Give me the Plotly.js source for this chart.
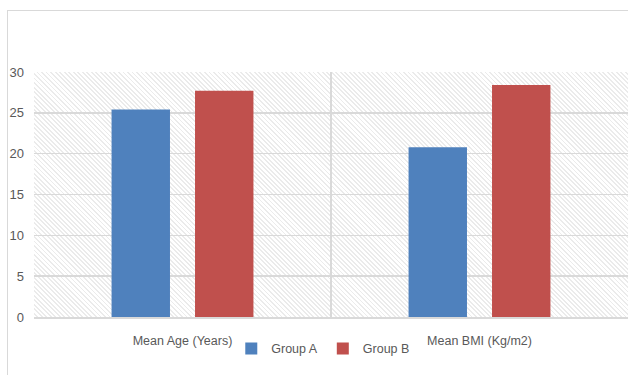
<!DOCTYPE html>
<html>
<head>
<meta charset="utf-8">
<script src="https://cdn.plot.ly/plotly-3.0.1.min.js"></script>
<style>
  html, body { margin: 0; padding: 0; background: #ffffff; }
  #wrap { position: relative; width: 628px; height: 375px; overflow: hidden; }
  #frame { position: absolute; left: 7px; top: 10px; width: 640px; height: 400px;
           border-left: 1.5px solid #d9d9d9; border-top: 1.5px solid #d9d9d9; }
  #hatch { position: absolute; left: 34px; top: 72px; width: 600px; height: 245px;
           background: repeating-linear-gradient(45deg, #ffffff 0px, #ffffff 1.9px, #ebebeb 1.9px, #ebebeb 3.2px); }
  #chart { position: absolute; left: 0; top: 0; width: 628px; height: 375px; }
</style>
</head>
<body>
<div id="wrap">
  <div id="frame"></div>
  <div id="hatch"></div>
  <div id="chart"></div>
</div>
<script>
const categories = ["Mean Age (Years)", "Mean BMI (Kg/m2)"];
const seriesNames = ["Group A", "Group B"];
const groupA = [25.4, 20.8];
const groupB = [27.7, 28.4];
const yTicks = [0, 5, 10, 15, 20, 25, 30];

const FONT = "'Liberation Sans Narrow', 'Liberation Sans', Arial, sans-serif";

const traces = [
  { type: "bar", name: seriesNames[0], x: categories, y: groupA,
    marker: { color: "#4f81bd" } },
  { type: "bar", name: seriesNames[1], x: categories, y: groupB,
    marker: { color: "#c0504d" } }
];

const layout = {
  width: 628, height: 375,
  margin: { l: 34, r: 0, t: 72, b: 58, pad: 0 },
  paper_bgcolor: "rgba(0,0,0,0)",
  plot_bgcolor: "rgba(0,0,0,0)",
  barmode: "group",
  bargap: 0.438,
  bargroupgap: 0.30,
  font: { family: FONT, size: 12, color: "#595959" },
  showlegend: true,
  legend: { orientation: "h", x: 0.487, xanchor: "center", y: -0.13, yanchor: "middle",
            font: { family: FONT, size: 12.5, color: "#595959" }, itemwidth: 30, bgcolor: "rgba(0,0,0,0)" },
  xaxis: {
    type: "category", tickson: "boundaries", showgrid: true, gridcolor: "#d9d9d9", gridwidth: 1.5,
    ticks: "", showline: true, linecolor: "#d9d9d9", linewidth: 1.5, ticklabelstandoff: 11,
    tickfont: { family: FONT, size: 12.5, color: "#595959" }, fixedrange: true
  },
  yaxis: {
    range: [0, 30], tickvals: yTicks, ticktext: yTicks.map(String),
    showgrid: true, gridcolor: "#d9d9d9", gridwidth: 1.5, zeroline: false,
    showline: false, ticks: "", ticklabelstandoff: 9,
    tickfont: { family: FONT, size: 13, color: "#595959" }, fixedrange: true
  }
};

Plotly.newPlot("chart", traces, layout, { displayModeBar: false, staticPlot: true });
</script>
</body>
</html>
